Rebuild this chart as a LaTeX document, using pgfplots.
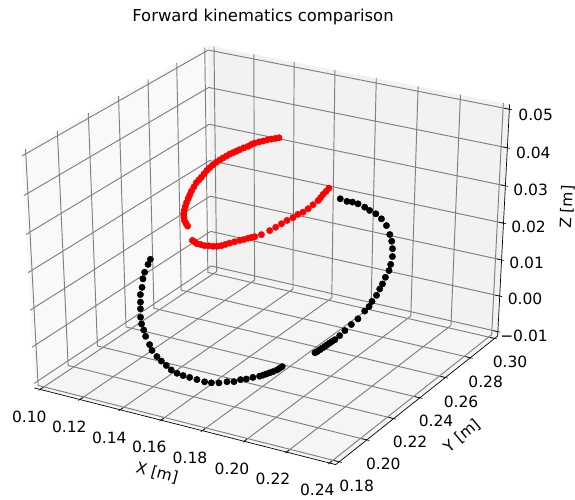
\documentclass[border=0pt]{standalone}
\usepackage{pgfplots}
\usepackage{pgfplotstable}
\usepackage{fontspec}
\setmainfont{DejaVu Sans}
\pgfplotsset{compat=1.18}
\definecolor{gridc}{gray}{0.5}
% matplotlib's 3D projection (azim -60, elev 30, dist 10) of the limits
% x 0.10..0.24, y 0.18..0.30, z -0.01..0.05
\newcommand{\QX}[1]{(((#1)-0.17)/0.14)}
\newcommand{\QY}[1]{(((#1)-0.24)/0.12)}
\newcommand{\QZ}[1]{(((#1)-0.02)/0.06)}
\newcommand{\DD}[3]{(10-0.433*\QX{#1}+0.75*\QY{#2}-0.5*\QZ{#3})}
\newcommand{\PX}[3]{(269.7+3340*(0.866*\QX{#1}+0.5*\QY{#2})/\DD{#1}{#2}{#3})}
\newcommand{\PY}[3]{(247.5-2595*(-0.25*\QX{#1}+0.433*\QY{#2}+0.866*\QZ{#3})/\DD{#1}{#2}{#3})}
\pgfplotsset{proj/.style={
  /pgfplots/table/x expr={\PX{\thisrow{x}}{\thisrow{y}}{\thisrow{z}}},
  /pgfplots/table/y expr={\PY{\thisrow{x}}{\thisrow{y}}{\thisrow{z}}}}}
\pgfplotstableread{
x y z
0.1205 0.2267 0.0140
0.1206 0.2249 0.0131
0.1208 0.2222 0.0117
0.1214 0.2201 0.0105
0.1227 0.2176 0.0090
0.1234 0.2154 0.0077
0.1249 0.2133 0.0064
0.1261 0.2115 0.0052
0.1277 0.2093 0.0037
0.1293 0.2077 0.0025
0.1312 0.2065 0.0014
0.1331 0.2051 0.0003
0.1360 0.2037 -0.0012
0.1380 0.2025 -0.0022
0.1409 0.2018 -0.0033
0.1433 0.2014 -0.0041
0.1459 0.2012 -0.0049
0.1485 0.2009 -0.0057
0.1512 0.2011 -0.0063
0.1538 0.2016 -0.0067
0.1566 0.2022 -0.0070
0.1596 0.2030 -0.0074
0.1628 0.2038 -0.0078
0.1654 0.2048 -0.0080
0.1682 0.2061 -0.0080
0.1709 0.2079 -0.0078
0.1734 0.2092 -0.0078
0.1755 0.2108 -0.0074
0.1775 0.2120 -0.0073
0.1796 0.2136 -0.0070
0.1818 0.2152 -0.0068
0.1829 0.2161 -0.0066
0.1839 0.2170 -0.0064
0.1849 0.2179 -0.0062
0.1859 0.2188 -0.0060
0.1870 0.2200 -0.0057
0.1877 0.2209 -0.0054
0.1883 0.2218 -0.0051
}\blackA
\pgfplotstableread{
x y z
0.1790 0.2782 0.0248
0.1819 0.2788 0.0243
0.1841 0.2795 0.0242
0.1865 0.2800 0.0239
0.1896 0.2803 0.0233
0.1920 0.2803 0.0227
0.1949 0.2805 0.0221
0.1979 0.2801 0.0212
0.2010 0.2791 0.0200
0.2039 0.2772 0.0184
0.2058 0.2757 0.0172
0.2075 0.2737 0.0159
0.2089 0.2715 0.0145
0.2097 0.2690 0.0131
0.2102 0.2670 0.0120
0.2101 0.2645 0.0108
0.2102 0.2622 0.0096
0.2101 0.2603 0.0087
0.2101 0.2579 0.0076
0.2095 0.2555 0.0065
0.2094 0.2535 0.0056
0.2086 0.2515 0.0048
0.2075 0.2482 0.0034
0.2061 0.2455 0.0024
0.2048 0.2427 0.0013
0.2038 0.2404 0.0004
0.2028 0.2384 -0.0003
0.2021 0.2374 -0.0006
0.2015 0.2365 -0.0009
0.2009 0.2356 -0.0012
0.2003 0.2348 -0.0015
0.1997 0.2339 -0.0018
0.1991 0.2330 -0.0021
0.1985 0.2321 -0.0024
0.1979 0.2313 -0.0026
}\blackB
\pgfplotstableread{
x y z
0.1542 0.2702 0.0400
0.1530 0.2692 0.0399
0.1517 0.2683 0.0398
0.1505 0.2672 0.0397
0.1492 0.2661 0.0395
0.1480 0.2650 0.0394
0.1467 0.2638 0.0392
0.1458 0.2626 0.0390
0.1450 0.2614 0.0387
0.1439 0.2600 0.0385
0.1428 0.2587 0.0382
0.1420 0.2575 0.0380
0.1412 0.2562 0.0378
0.1404 0.2550 0.0376
0.1397 0.2538 0.0373
0.1389 0.2525 0.0370
0.1382 0.2512 0.0367
0.1376 0.2497 0.0364
0.1370 0.2481 0.0360
0.1366 0.2465 0.0356
0.1363 0.2449 0.0352
0.1361 0.2432 0.0347
0.1360 0.2414 0.0342
0.1358 0.2399 0.0338
0.1356 0.2384 0.0334
0.1358 0.2364 0.0328
0.1360 0.2344 0.0322
0.1363 0.2328 0.0316
0.1367 0.2311 0.0311
0.1371 0.2294 0.0305
0.1376 0.2278 0.0299
0.1382 0.2263 0.0294
0.1389 0.2249 0.0289
0.1398 0.2237 0.0284
0.1408 0.2226 0.0279
0.1421 0.2218 0.0275
0.1434 0.2211 0.0271
}\redA
\pgfplotstableread{
x y z
0.1486 0.2169 0.0250
0.1498 0.2167 0.0248
0.1510 0.2166 0.0245
0.1526 0.2169 0.0244
0.1542 0.2173 0.0242
0.1558 0.2179 0.0242
0.1574 0.2186 0.0241
0.1588 0.2194 0.0241
0.1602 0.2203 0.0242
0.1614 0.2214 0.0244
0.1626 0.2226 0.0246
0.1641 0.2239 0.0248
0.1656 0.2253 0.0250
0.1668 0.2264 0.0251
0.1680 0.2276 0.0253
0.1690 0.2285 0.0254
0.1700 0.2294 0.0255
0.1719 0.2313 0.0258
0.1739 0.2342 0.0264
0.1753 0.2364 0.0269
0.1765 0.2387 0.0274
0.1777 0.2409 0.0279
0.1792 0.2429 0.0283
0.1802 0.2450 0.0288
0.1815 0.2467 0.0291
0.1825 0.2489 0.0296
0.1833 0.2512 0.0302
0.1841 0.2537 0.0308
0.1843 0.2552 0.0312
0.1844 0.2568 0.0317
0.1847 0.2585 0.0321
0.1850 0.2602 0.0326
}\redB
\begin{document}
\begin{tikzpicture}
\path[use as bounding box] (0,0) rectangle (575pt,500pt);
\begin{axis}[
  at={(0,0)}, anchor=south west,
  width=575pt, height=500pt, scale only axis,
  xmin=0, xmax=575, ymin=0, ymax=500, y dir=reverse,
  hide axis, clip=false,
]
% panes
\addplot[fill={rgb,1:red,0.975;green,0.975;blue,0.975}, draw=none] table[proj, row sep=\\]{x y z\\ 0.09708 0.1775 -0.01125\\ 0.09708 0.3025 -0.01125\\ 0.09708 0.3025 0.05125\\ 0.09708 0.1775 0.05125\\ 0.09708 0.1775 -0.01125\\};
\addplot[fill={rgb,1:red,0.95;green,0.95;blue,0.95}, draw=none] table[proj, row sep=\\]{x y z\\ 0.09708 0.3025 -0.01125\\ 0.24292 0.3025 -0.01125\\ 0.24292 0.3025 0.05125\\ 0.09708 0.3025 0.05125\\ 0.09708 0.3025 -0.01125\\};
\addplot[fill={rgb,1:red,0.9625;green,0.9625;blue,0.9625}, draw=none] table[proj, row sep=\\]{x y z\\ 0.09708 0.1775 -0.01125\\ 0.24292 0.1775 -0.01125\\ 0.24292 0.3025 -0.01125\\ 0.09708 0.3025 -0.01125\\ 0.09708 0.1775 -0.01125\\};
% grid
\pgfplotsinvokeforeach{0.10,0.12,0.14,0.16,0.18,0.20,0.22,0.24}{
  \addplot[gridc, line width=0.95pt] table[proj, row sep=\\]{x y z\\ #1 0.1775 -0.01125\\ #1 0.3025 -0.01125\\ #1 0.3025 0.05125\\};
  \addplot[black, line width=0.6pt] table[proj, row sep=\\]{x y z\\ #1 0.1765 -0.01125\\ #1 0.1795 -0.01125\\};
}
\pgfplotsinvokeforeach{0.18,0.20,0.22,0.24,0.26,0.28,0.30}{
  \addplot[gridc, line width=0.95pt] table[proj, row sep=\\]{x y z\\ 0.24292 #1 -0.01125\\ 0.09708 #1 -0.01125\\ 0.09708 #1 0.05125\\};
  \addplot[black, line width=0.6pt] table[proj, row sep=\\]{x y z\\ 0.24409 #1 -0.01125\\ 0.24059 #1 -0.01125\\};
}
\pgfplotsinvokeforeach{-0.01,0.00,0.01,0.02,0.03,0.04,0.05}{
  \addplot[gridc, line width=0.95pt] table[proj, row sep=\\]{x y z\\ 0.09708 0.1775 #1\\ 0.09708 0.3025 #1\\ 0.24292 0.3025 #1\\};
  \addplot[black, line width=0.6pt] table[proj, row sep=\\]{x y z\\ 0.24409 0.3025 #1\\ 0.24059 0.3025 #1\\};
}
% axis lines
\addplot[black, line width=0.7pt] table[proj, row sep=\\]{x y z\\ 0.09708 0.1775 -0.01125\\ 0.24292 0.1775 -0.01125\\ 0.24292 0.3025 -0.01125\\ 0.24292 0.3025 0.05125\\};
% data
\addplot[only marks, mark=*, mark size=3.2pt, black, mark options={draw=black, fill=black}] table[proj] {\blackA};
\addplot[only marks, mark=*, mark size=3.2pt, black, mark options={draw=black, fill=black}] table[proj] {\blackB};
\addplot[only marks, mark=*, mark size=3.2pt, red, mark options={draw=red, fill=red}] table[proj] {\redA};
\addplot[only marks, mark=*, mark size=3.2pt, red, mark options={draw=red, fill=red}] table[proj] {\redB};
% texts
\node[font=\fontsize{16.4}{20}\selectfont] at (axis cs:263,17) {Forward kinematics comparison};
\begin{scope}[every node/.style={font=\fontsize{15.5}{18}\selectfont, inner sep=0pt}]
\node at (axis cs:29.3,416.7) {0.10};
\node at (axis cs:69.3,426.7) {0.12};
\node at (axis cs:109.3,437.7) {0.14};
\node at (axis cs:149.3,447.3) {0.16};
\node at (axis cs:190,458) {0.18};
\node at (axis cs:232,469) {0.20};
\node at (axis cs:273,479) {0.22};
\node at (axis cs:317.3,490) {0.24};
\node at (axis cs:356.7,486) {0.18};
\node at (axis cs:383.3,464) {0.20};
\node at (axis cs:410,442.3) {0.22};
\node at (axis cs:436,420.7) {0.24};
\node at (axis cs:461,401.7) {0.26};
\node at (axis cs:485.7,381.7) {0.28};
\node at (axis cs:510,361.7) {0.30};
\node at (axis cs:524,335.7) {−0.01};
\node at (axis cs:525,299) {0.00};
\node at (axis cs:526.7,263) {0.01};
\node at (axis cs:528.5,227) {0.02};
\node at (axis cs:530.7,190) {0.03};
\node at (axis cs:533.3,152.7) {0.04};
\node at (axis cs:535.7,115) {0.05};
\node[rotate=-15] at (axis cs:157,473) {X [m]};
\node[rotate=40] at (axis cs:462,436) {Y [m]};
\node[rotate=87] at (axis cs:567,207) {Z [m]};
\end{scope}
\end{axis}
\end{tikzpicture}
\end{document}
